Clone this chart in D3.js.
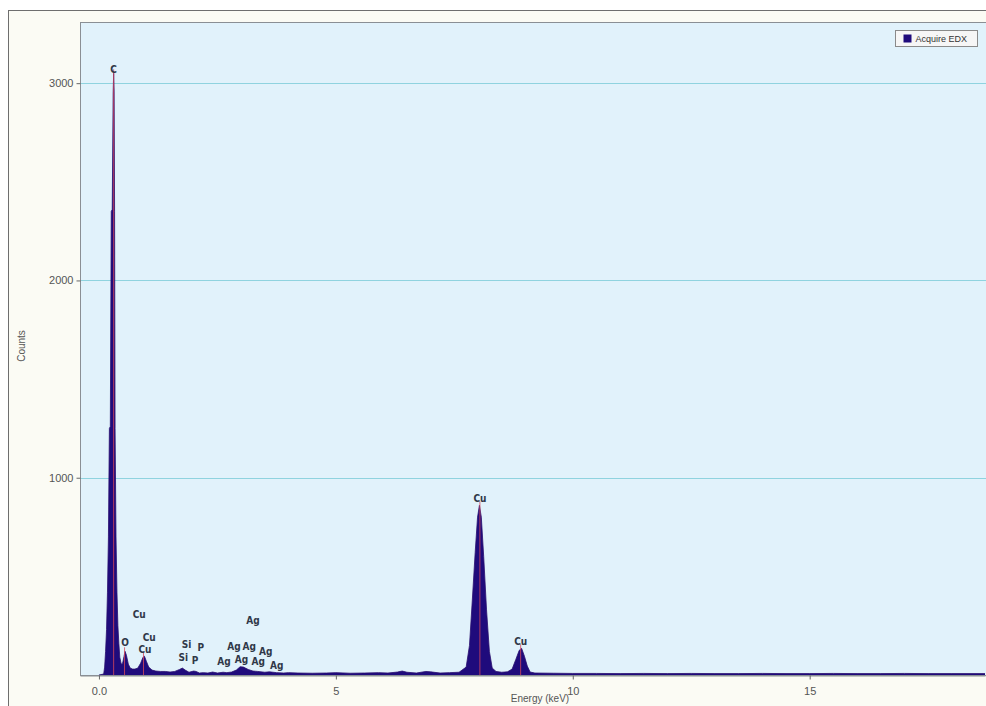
<!DOCTYPE html>
<html><head><meta charset="utf-8">
<script src="https://cdn.jsdelivr.net/npm/d3@7"></script>
<style>body{margin:0;background:#fff;}svg{display:block;}</style>
</head><body>
<svg id="c" width="986" height="706"></svg>
<script>
// ---- data ----
const energy = [0.00,0.10,0.12,0.14,0.16,0.18,0.20,0.22,0.24,0.26,0.28,0.30,0.31,0.32,0.33,0.34,0.36,0.38,0.40,0.42,0.44,0.47,0.50,0.53,0.55,0.58,0.62,0.66,0.71,0.76,0.82,0.88,0.93,0.96,1.00,1.05,1.12,1.20,1.30,1.40,1.50,1.60,1.70,1.76,1.82,1.90,2.00,2.05,2.12,2.20,2.30,2.40,2.50,2.62,2.70,2.80,2.90,2.98,3.05,3.15,3.25,3.35,3.50,3.60,3.75,3.90,4.00,4.20,4.50,4.80,5.00,5.30,5.60,5.90,6.10,6.30,6.40,6.50,6.70,6.90,7.00,7.20,7.40,7.60,7.75,7.82,7.88,7.94,7.99,8.03,8.07,8.12,8.18,8.24,8.30,8.38,8.50,8.62,8.72,8.80,8.87,8.92,8.98,9.04,9.10,9.20,9.60,10.0,10.5,11.0,11.5,12.0,12.5,13.0,13.5,14.0,14.5,15.0,15.5,16.0,16.5,17.0,17.5,18.0,18.7];
const counts = [0,5,40,120,230,420,700,1250,1260,2350,2360,2950,3050,2960,2350,1250,700,420,250,160,90,55,60,95,120,100,55,35,30,30,35,60,90,95,70,40,25,20,18,18,15,18,28,35,25,14,20,18,10,12,10,15,10,14,12,15,25,42,40,28,20,18,14,16,12,10,12,10,9,10,12,9,10,12,10,15,20,14,10,18,16,10,12,14,40,150,380,620,800,860,800,600,330,120,35,18,14,16,30,80,125,135,95,45,15,10,9,8,8,7,8,7,8,7,7,8,7,7,8,7,7,8,7,7,7];

const markerEnergy = [0.31,0.54,0.94,8.04,8.90];
const markerCounts = [3050,120,95,860,135];

const labelText = ["C","Cu","O","Cu","Cu","Si","P","Si","P","Ag","Ag","Ag","Ag","Ag","Ag","Ag","Ag","Cu","Cu"];
const labelEnergy = [0.31,0.85,0.55,1.06,0.97,1.85,2.15,1.78,2.03,3.25,2.85,3.17,3.52,2.64,3.01,3.36,3.75,8.04,8.90];
const labelCounts = [3071,309,163,189,127,157,137,91,76,274,142,142,119,66,81,66,47,897,172];

const xTicks = [0,5,10,15];
const xTickLabels = ["0.0","5","10","15"];
const yTicks = [1000,2000,3000];
const yTickLabels = ["1000","2000","3000"];
const seriesName = "Acquire EDX";

// ---- drawing ----
const svg = d3.select("#c");
const L = 80, T = 22, R = 985, B = 675;

svg.append("rect").attr("x",0).attr("y",0).attr("width",986).attr("height",706).attr("fill","#ffffff");
svg.append("rect").attr("x",8.5).attr("y",10.5).attr("width",990).attr("height",710)
  .attr("fill","#fbfbf4").attr("stroke","#6e6e6e").attr("stroke-width",1);

const x = d3.scaleLinear().domain([-0.4,18.7]).range([L,R]);
const y = d3.scaleLinear().domain([0,3310]).range([B,T]);

svg.append("rect").attr("x",L+0.5).attr("y",T+0.5).attr("width",R-L+5).attr("height",B-T)
  .attr("fill","#e1f2fb").attr("stroke","#8a8f94").attr("stroke-width",1);

// gridlines
svg.append("g").selectAll("line").data(yTicks).join("line")
  .attr("x1",L+1).attr("x2",R+5)
  .attr("y1",d=>Math.round(y(d))+0.5).attr("y2",d=>Math.round(y(d))+0.5)
  .attr("stroke","#8fd3df").attr("stroke-width",1);

// spectrum
const pts = energy.map((e,i)=>[e,counts[i]]);
const area = d3.area().x(d=>x(d[0])).y0(B).y1(d=>y(d[1]));
svg.append("path").datum(pts).attr("d",area).attr("fill","#1f0b7c");
svg.append("path").datum(pts).attr("d",d3.line().x(d=>x(d[0])).y(d=>y(d[1])))
  .attr("fill","none").attr("stroke","#2a0f6e").attr("stroke-width",0.8);

// red markers
svg.append("g").selectAll("line").data(markerEnergy).join("line")
  .attr("x1",d=>x(d)).attr("x2",d=>x(d))
  .attr("y1",B).attr("y2",(d,i)=>y(markerCounts[i])-4)
  .attr("stroke","#d9495a").attr("stroke-width",1).attr("opacity",0.8);

// axes
const xAxis = d3.axisBottom(x).tickValues(xTicks).tickFormat((d,i)=>xTickLabels[i]).tickSize(4).tickSizeOuter(0);
const gx = svg.append("g").attr("transform",`translate(0,${B+0.5})`).call(xAxis);
gx.select(".domain").attr("stroke","#8a8f94");
gx.selectAll(".tick line").attr("stroke","#666");
gx.selectAll(".tick text").attr("fill","#555").attr("font-size",11).attr("font-family","Liberation Sans, Arial, sans-serif").attr("dy","1.1em");

const yAxis = d3.axisLeft(y).tickValues(yTicks).tickFormat((d,i)=>yTickLabels[i]).tickSize(4).tickSizeOuter(0);
const gy = svg.append("g").attr("transform",`translate(${L+0.5},0)`).call(yAxis);
gy.select(".domain").remove();
gy.selectAll(".tick line").attr("stroke","#666");
gy.selectAll(".tick text").attr("fill","#555").attr("font-size",11).attr("font-family","Liberation Sans, Arial, sans-serif");

// axis titles
svg.append("text").attr("x",540).attr("y",702).attr("text-anchor","middle")
  .attr("font-size",10).attr("fill","#555").attr("font-family","Liberation Sans, Arial, sans-serif").text("Energy (keV)");
svg.append("text").attr("transform","translate(25,346) rotate(-90)").attr("text-anchor","middle")
  .attr("font-size",10).attr("fill","#555").attr("font-family","Liberation Sans, Arial, sans-serif").text("Counts");

// peak labels
svg.append("g").selectAll("text").data(labelText).join("text")
  .attr("x",(d,i)=>x(labelEnergy[i])).attr("y",(d,i)=>y(labelCounts[i]))
  .attr("text-anchor","middle").attr("dominant-baseline","central")
  .attr("font-size",10).attr("font-weight","bold").attr("fill","#303848")
  .attr("font-family","DejaVu Sans Condensed, DejaVu Sans, sans-serif")
  .text(d=>d);

// legend
const lg = svg.append("g").attr("transform","translate(895.5,30.5)");
lg.append("rect").attr("width",82).attr("height",16).attr("fill","#f6f6f6").attr("stroke","#8a8a8a");
lg.append("rect").attr("x",8).attr("y",4).attr("width",8).attr("height",8).attr("fill","#1f0b7c");
lg.append("text").attr("x",20).attr("y",11.5).attr("font-size",9).attr("fill","#333")
  .attr("font-family","Liberation Sans, Arial, sans-serif").text(seriesName);
</script>
</body></html>
